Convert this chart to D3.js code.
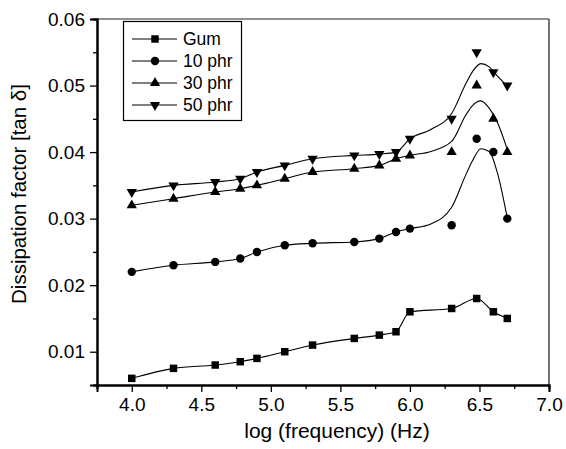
<!DOCTYPE html>
<html>
<head>
<meta charset="utf-8">
<script src="https://cdn.jsdelivr.net/npm/d3@7"></script>
<style>
  body { margin: 0; background: #fff; }
  text { font-family: "Liberation Sans", Arial, sans-serif; fill: #000; }
</style>
</head>
<body>
<svg id="chart"></svg>
<script>
var width = 566;
var height = 449;
var margin = {top: 19, left: 97, right: 17, bottom: 64};

// measured points
var freq = [4.0, 4.3, 4.6, 4.78, 4.9, 5.1, 5.3, 5.6, 5.78, 5.9, 6.0, 6.3, 6.48, 6.6, 6.7];
var gum   = [0.006, 0.0075, 0.008, 0.0085, 0.009, 0.010, 0.011, 0.012, 0.0125, 0.013, 0.016, 0.0165, 0.018, 0.016, 0.015];
var phr10 = [0.022, 0.023, 0.0235, 0.024, 0.025, 0.026, 0.0263, 0.0265, 0.027, 0.028, 0.0285, 0.029, 0.042, 0.040, 0.030];
var phr30 = [0.032, 0.033, 0.034, 0.0345, 0.035, 0.036, 0.037, 0.0375, 0.038, 0.039, 0.0395, 0.040, 0.050, 0.045, 0.040];
var phr50 = [0.034, 0.035, 0.0355, 0.036, 0.037, 0.038, 0.039, 0.0395, 0.0397, 0.040, 0.042, 0.045, 0.055, 0.052, 0.050];

// smoothed fit above 6.0
var fitFreq  = [6.15, 6.3, 6.4, 6.45, 6.51, 6.57, 6.63, 6.7];
var fitPhr10 = [0.0292, 0.0317, 0.0365, 0.0387, 0.0405, 0.0401, 0.0368, 0.0301];
var fitPhr30 = [0.0401, 0.0416, 0.0455, 0.0470, 0.0477, 0.0466, 0.0444, 0.0404];
var fitPhr50 = [0.0434, 0.0458, 0.0502, 0.0521, 0.0533, 0.0528, 0.0514, 0.0499];

var seriesNames = ['Gum', '10 phr', '30 phr', '50 phr'];
var xTicks = [4.0, 4.5, 5.0, 5.5, 6.0, 6.5, 7.0];
var xMinor = [3.75, 4.25, 4.75, 5.25, 5.75, 6.25, 6.75];
var yTicks = [0.01, 0.02, 0.03, 0.04, 0.05, 0.06];
var yMinor = [0.005, 0.015, 0.025, 0.035, 0.045, 0.055];

var svg = d3.select('#chart').attr('width', width).attr('height', height);

var xscale = d3.scaleLinear().domain([3.75, 7.0]).range([margin.left, width - margin.right]);
var yscale = d3.scaleLinear().domain([0.005, 0.06]).range([height - margin.bottom, margin.top]);

// frame top/right
svg.append('line').attr('x1', xscale(3.75)).attr('x2', xscale(7.0)).attr('y1', yscale(0.06)).attr('y2', yscale(0.06))
  .attr('stroke', '#222').attr('stroke-width', 1.2);
svg.append('line').attr('x1', xscale(7.0)).attr('x2', xscale(7.0)).attr('y1', yscale(0.06)).attr('y2', yscale(0.005))
  .attr('stroke', '#444').attr('stroke-width', 1.5);

// axes
var xaxis = d3.axisBottom(xscale).tickValues(xTicks).tickFormat(d3.format('.1f')).tickSize(7).tickPadding(5);
var xaxisMinor = d3.axisBottom(xscale).tickValues(xMinor).tickFormat('').tickSize(4);
var yaxis = d3.axisLeft(yscale).tickValues(yTicks).tickFormat(d3.format('.2f')).tickSize(7).tickPadding(5);
var yaxisMinor = d3.axisLeft(yscale).tickValues(yMinor).tickFormat('').tickSize(4);

var gx = svg.append('g').attr('transform', 'translate(0,' + (height - margin.bottom) + ')').call(xaxis);
svg.append('g').attr('transform', 'translate(0,' + (height - margin.bottom) + ')').call(xaxisMinor);
var gy = svg.append('g').attr('transform', 'translate(' + margin.left + ',0)').call(yaxis);
svg.append('g').attr('transform', 'translate(' + margin.left + ',0)').call(yaxisMinor);

svg.selectAll('.domain').attr('stroke', '#000').attr('stroke-width', 2);
svg.selectAll('.tick line').attr('stroke', '#000').attr('stroke-width', 1.3);
svg.selectAll('.tick text').style('font-size', '19px').style('font-family', '"Liberation Sans", Arial, sans-serif').attr('fill', '#000');
gx.selectAll('.tick text').attr('dy', '0.75em');

// titles
svg.append('text').attr('x', 337).attr('y', 438).attr('text-anchor', 'middle')
  .style('font-size', '21px').text('log (frequency) (Hz)');
svg.append('text').attr('transform', 'translate(26,194) rotate(-90)').attr('text-anchor', 'middle')
  .style('font-size', '20.5px').text('Dissipation factor [tan \u03b4]');

// symbols
var triDown = {draw: function(ctx, size) {
  var y = -Math.sqrt(size / (Math.sqrt(3) * 3));
  ctx.moveTo(0, -y * 2);
  ctx.lineTo(-Math.sqrt(3) * y, y);
  ctx.lineTo(Math.sqrt(3) * y, y);
  ctx.closePath();
}};
var symbols = [
  d3.symbol().type(d3.symbolSquare).size(56),
  d3.symbol().type(d3.symbolCircle).size(56),
  d3.symbol().type(d3.symbolTriangle).size(46),
  d3.symbol().type(triDown).size(46)
];

function pairs(xs, ys) {
  return xs.map(function(x, i) { return {x: x, y: ys[i]}; });
}
function lineData(ys, fit) {
  var pts = pairs(freq, ys);
  if (!fit) return pts;
  return pts.filter(function(d) { return d.x <= 6.0; }).concat(pairs(fitFreq, fit));
}

var allSeries = [
  {pts: pairs(freq, gum),   line: lineData(gum, null)},
  {pts: pairs(freq, phr10), line: lineData(phr10, fitPhr10)},
  {pts: pairs(freq, phr30), line: lineData(phr30, fitPhr30)},
  {pts: pairs(freq, phr50), line: lineData(phr50, fitPhr50)}
];

var line = d3.line().x(function(d) { return xscale(d.x); }).y(function(d) { return yscale(d.y); })
  .curve(d3.curveMonotoneX);

allSeries.forEach(function(s, i) {
  svg.append('path').attr('d', line(s.line)).attr('fill', 'none').attr('stroke', '#000').attr('stroke-width', 1.1);
  svg.append('g').selectAll('path').data(s.pts).enter().append('path')
    .attr('d', symbols[i])
    .attr('transform', function(d) { return 'translate(' + xscale(d.x) + ',' + yscale(d.y) + ')'; })
    .attr('fill', '#000');
});

// legend
var legend = svg.append('g');
legend.append('rect').attr('x', 123.5).attr('y', 21.5).attr('width', 118).attr('height', 99)
  .attr('fill', '#fff').attr('stroke', '#000').attr('stroke-width', 1.2);
var ly = [39, 61, 83, 105];
seriesNames.forEach(function(name, i) {
  legend.append('line').attr('x1', 132).attr('x2', 177).attr('y1', ly[i]).attr('y2', ly[i])
    .attr('stroke', '#000').attr('stroke-width', 1.1);
  legend.append('path').attr('d', symbols[i]).attr('transform', 'translate(155,' + ly[i] + ')').attr('fill', '#000');
  legend.append('text').attr('x', 183).attr('y', ly[i]).attr('dy', '0.35em')
    .style('font-size', '17.5px').text(name);
});
</script>
</body>
</html>
